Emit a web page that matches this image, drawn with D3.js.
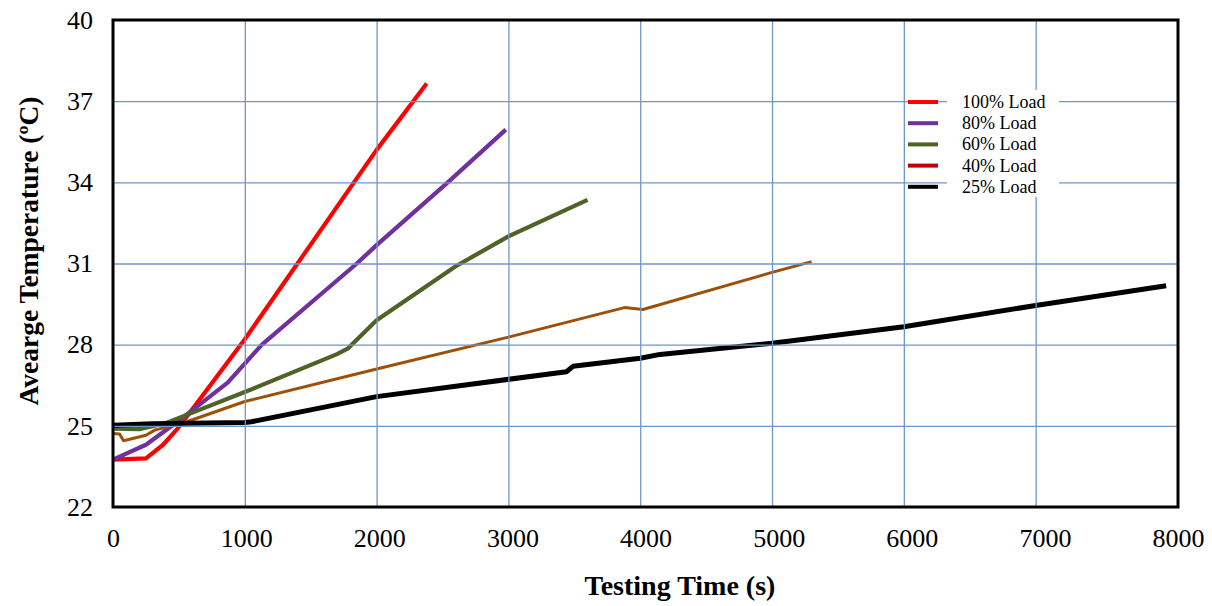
<!DOCTYPE html>
<html>
<head>
<meta charset="utf-8">
<script src="https://cdn.jsdelivr.net/npm/d3@7/dist/d3.min.js"></script>
<style>
  body { margin: 0; background: #fff; }
  svg text { font-family: "Liberation Serif", serif; fill: #000; }
</style>
</head>
<body>
<div id="chart"></div>
<script>
// series: [time (s), average temperature (C)]
const seriesNames = ["100% Load", "80% Load", "60% Load", "40% Load", "25% Load"];
const lineColors = ["#ff0000", "#7030a0", "#4f6228", "#9c500a", "#000000"];
const legendColors = ["#ff0000", "#7030a0", "#4f6228", "#c00000", "#000000"];
const lineWidths = [4.2, 4.2, 4.2, 3, 5];

const load100 = [[0, 23.75], [250, 23.8], [380, 24.3], [490, 24.9], [600, 25.6],
  [1000, 28.2], [1400, 31.0], [2000, 35.2], [2380, 37.65]];
const load80 = [[0, 23.75], [250, 24.3], [530, 25.3], [870, 26.6], [1130, 28.0],
  [1850, 31.0], [2000, 31.68], [2540, 34.0], [2980, 35.95]];
const load60 = [[0, 24.9], [200, 24.88], [400, 25.1], [660, 25.6], [1000, 26.25],
  [1400, 27.05], [1700, 27.65], [1780, 27.85], [2000, 28.9], [2600, 30.9],
  [3000, 32.0], [3600, 33.35]];
const load40 = [[0, 24.72], [50, 24.7], [80, 24.45], [250, 24.65], [320, 24.85],
  [500, 25.05], [1000, 25.9], [2000, 27.1], [3000, 28.28], [3880, 29.37],
  [4020, 29.3], [5000, 30.67], [5300, 31.07]];
const load25 = [[0, 25.02], [300, 25.08], [1000, 25.12], [1050, 25.15], [2000, 26.08],
  [3440, 27.0], [3490, 27.2], [4000, 27.5], [4150, 27.64], [5000, 28.05],
  [6000, 28.66], [7000, 29.45], [7990, 30.18]];

const xTicks = [0, 1000, 2000, 3000, 4000, 5000, 6000, 7000, 8000];
const xGrid = [1000, 2000, 3000, 4000, 5000, 6000, 7000];
const yTicks = [22, 25, 28, 31, 34, 37, 40];

const allSeries = [load100, load80, load60, load40, load25];

const dimensions = { x: 1212, y: 606 };
const margins = { left: 113, right: 34, top: 20, bottom: 99 };

const container = d3.select("#chart");
const svg = container.append("svg")
  .attr("width", dimensions.x)
  .attr("height", dimensions.y);

const mainGroup = svg.append("g");

// the plot area runs a little past 8000 s; the tick labels are spread evenly across it
const scaleX = d3.scaleLinear()
  .domain([0, 8080])
  .range([margins.left, dimensions.x - margins.right]);

const scaleXLabels = d3.scaleLinear()
  .domain([0, 8000])
  .range([margins.left, dimensions.x - margins.right]);

const scaleY = d3.scaleLinear()
  .domain([22, 40])
  .range([dimensions.y - margins.bottom, margins.top]);

// lines
const line = d3.line()
  .x((d) => scaleX(d[0]))
  .y((d) => scaleY(d[1]));

const linesGroup = mainGroup.append("g");
allSeries.forEach((s, i) => {
  linesGroup.append("path")
    .attr("d", line(s))
    .attr("fill", "none")
    .attr("stroke", lineColors[i])
    .attr("stroke-width", lineWidths[i])
    .attr("stroke-linejoin", "round");
});

// grid (drawn over the data, like the original)
const gridColor = "#6f96c8";
mainGroup.append("g")
  .attr("transform", `translate(0, ${scaleY.range()[0]})`)
  .call(d3.axisBottom(scaleX).tickValues(xGrid)
    .tickSize(-(scaleY.range()[0] - scaleY.range()[1])).tickFormat(""))
  .call((g) => g.select(".domain").remove())
  .call((g) => g.selectAll("line").attr("stroke", gridColor).attr("stroke-width", 1.3));

mainGroup.append("g")
  .attr("transform", `translate(${scaleX.range()[0]}, 0)`)
  .call(d3.axisLeft(scaleY).tickValues(yTicks.slice(1, -1))
    .tickSize(-(scaleX.range()[1] - scaleX.range()[0])).tickFormat(""))
  .call((g) => g.select(".domain").remove())
  .call((g) => g.selectAll("line").attr("stroke", gridColor).attr("stroke-width", 1.3));

// plot border
mainGroup.append("rect")
  .attr("x", scaleX.range()[0])
  .attr("y", scaleY.range()[1])
  .attr("width", scaleX.range()[1] - scaleX.range()[0])
  .attr("height", scaleY.range()[0] - scaleY.range()[1])
  .attr("fill", "none")
  .attr("stroke", "#000")
  .attr("stroke-width", 3);

// tick labels
const axisX = d3.axisBottom(scaleXLabels).tickValues(xTicks)
  .tickFormat(d3.format("d")).tickSize(0).tickPadding(22);
mainGroup.append("g")
  .attr("transform", `translate(0, ${scaleY.range()[0]})`)
  .call(axisX)
  .call((g) => g.select(".domain").remove())
  .selectAll("text")
  .style("font-family", "Liberation Serif, serif")
  .style("font-size", "26px");

const axisY = d3.axisLeft(scaleY).tickValues(yTicks)
  .tickFormat(d3.format("d")).tickSize(0).tickPadding(20);
mainGroup.append("g")
  .attr("transform", `translate(${scaleX.range()[0]}, 0)`)
  .call(axisY)
  .call((g) => g.select(".domain").remove())
  .selectAll("text")
  .style("font-family", "Liberation Serif, serif")
  .style("font-size", "26px");

// axis titles
mainGroup.append("text")
  .attr("x", 680)
  .attr("y", 595)
  .attr("text-anchor", "middle")
  .style("font-size", "28px")
  .style("font-weight", "bold")
  .text("Testing Time (s)");

mainGroup.append("text")
  .attr("transform", `translate(38, 251) rotate(-90)`)
  .attr("text-anchor", "middle")
  .style("font-size", "27.5px")
  .style("font-weight", "bold")
  .text("Avearge Temperature (ºC)");

// legend
const legend = mainGroup.append("g").attr("transform", "translate(908, 102)");
legend.append("rect")
  .attr("x", 39).attr("y", -12)
  .attr("width", 112).attr("height", 107)
  .attr("fill", "#fff");

seriesNames.forEach((name, i) => {
  const row = legend.append("g").attr("transform", `translate(0, ${i * 21.2})`);
  row.append("line")
    .attr("x1", 0).attr("x2", 30)
    .attr("stroke", legendColors[i])
    .attr("stroke-width", 4);
  row.append("text")
    .attr("x", 54)
    .attr("dy", "0.33em")
    .style("font-size", "18px")
    .text(name);
});
</script>
</body>
</html>
